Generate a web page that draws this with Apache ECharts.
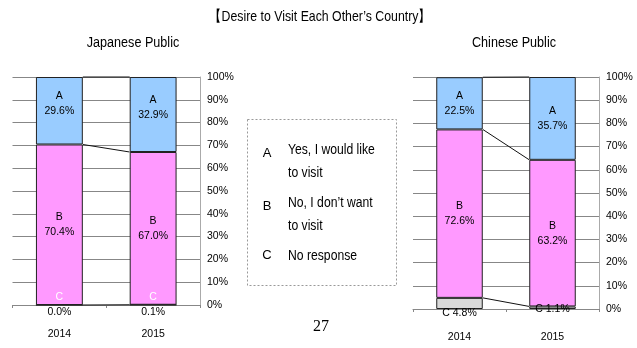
<!DOCTYPE html>
<html><head><meta charset="utf-8">
<script src="https://cdn.jsdelivr.net/npm/echarts@6/dist/echarts.min.js"></script>
<style>html,body{margin:0;padding:0;background:#fff}#c{width:637px;height:348px}</style>
</head><body><div id="c"></div>
<script>
const years = ['2014', '2015'];
const jpA = [29.6, 32.9];
const jpB = [70.4, 67.0];
const jpC = [0.0, 0.1];
const cnA = [22.5, 35.7];
const cnB = [72.6, 63.2];
const cnC = [4.8, 1.1];
const legendKeys = ['A', 'B', 'C'];
const legendTexts = ['Yes, I would like\nto visit', 'No, I don\u2019t want\nto visit', 'No response'];

const SANS = 'Liberation Sans, Arial, sans-serif';
const colA = '#99CCFF', colB = '#FF99FF', colC = '#D9D9D9';
const gridCol = '#878787';

const chart = echarts.init(document.getElementById('c'), null, {renderer: 'canvas'});

function yAxisCfg(gi) {
  return {
    gridIndex: gi, type: 'value', position: 'right', min: 0, max: 100, interval: 10,
    axisLine: {show: true, lineStyle: {color: '#aaa'}},
    axisTick: {show: false},
    splitLine: {show: true, lineStyle: {color: gridCol, width: 1}},
    axisLabel: {formatter: v => v + '%', color: '#000', fontFamily: SANS, fontSize: 10.5, margin: 7}
  };
}

function connector(gi, C, B, A) {
  const bounds = [
    [0, C[0], C[1]],
    [0, C[0] + B[0], C[1] + B[1]],
    [0, C[0] + B[0] + A[0], C[1] + B[1] + A[1]]
  ];
  return {
    type: 'custom', xAxisIndex: gi, yAxisIndex: gi, z: 5, silent: true,
    encode: {x: 0, y: [1, 2]},
    data: bounds,
    renderItem: (params, api) => {
      const p0 = api.coord([0, api.value(1)]);
      const p1 = api.coord([1, api.value(2)]);
      const half = api.size([1, 0])[0] * 0.25;
      return {type: 'line', shape: {x1: p0[0] + half, y1: p0[1], x2: p1[0] - half, y2: p1[1]},
        style: {stroke: '#111', lineWidth: 1}};
    }
  };
}

const barBase = {type: 'bar', barWidth: '50%'};
const lblStyle = {color: '#000', fontFamily: SANS, fontSize: 10.5, lineHeight: 15};

function txt(text, x, y, size, sx, extra) {
  return {type: 'text', x: x, y: y, scaleX: sx, silent: true,
    style: Object.assign({text: text, x: 0, y: 0, font: size + 'px ' + SANS, fill: '#000',
      textAlign: 'center', textVerticalAlign: 'middle'}, extra || {})};
}

const option = {
  animation: false,
  grid: [
    {left: 12.5, right: 437, top: 77, bottom: 43},
    {left: 413, right: 38, top: 77, bottom: 39}
  ],
  xAxis: [
    {gridIndex: 0, type: 'category', data: years,
      axisLine: {lineStyle: {color: gridCol}}, axisTick: {show: true, length: 3, lineStyle: {color: gridCol}},
      axisLabel: {margin: 1, color: '#000', fontFamily: SANS, fontSize: 10.5,
        formatter: (v, i) => '{p|' + jpC[i].toFixed(1) + '%}\n{y|' + v + '}',
        rich: {p: {fontFamily: SANS, fontSize: 10.5, lineHeight: 12, color: '#000'},
               y: {fontFamily: SANS, fontSize: 10.5, lineHeight: 32, color: '#000', verticalAlign: 'middle'}}}},
    {gridIndex: 1, type: 'category', data: years,
      axisLine: {lineStyle: {color: gridCol}}, axisTick: {show: true, length: 3, lineStyle: {color: gridCol}},
      axisLabel: {margin: 23, color: '#000', fontFamily: SANS, fontSize: 10.5}}
  ],
  yAxis: [yAxisCfg(0), yAxisCfg(1)],
  series: [
    Object.assign({}, barBase, {name: 'C', stack: 'jp', xAxisIndex: 0, yAxisIndex: 0, z: 4, data: jpC,
      itemStyle: {color: colC, borderColor: '#222', borderWidth: 1},
      label: Object.assign({}, lblStyle, {show: true, position: 'top', distance: 0, color: '#fff', formatter: 'C'})}),
    Object.assign({}, barBase, {name: 'B', stack: 'jp', xAxisIndex: 0, yAxisIndex: 0, data: jpB,
      itemStyle: {color: colB, borderColor: '#222', borderWidth: 1},
      label: Object.assign({}, lblStyle, {show: true, position: 'inside', formatter: p => 'B\n' + p.value.toFixed(1) + '%'})}),
    Object.assign({}, barBase, {name: 'A', stack: 'jp', xAxisIndex: 0, yAxisIndex: 0, data: jpA,
      itemStyle: {color: colA, borderColor: '#222', borderWidth: 1},
      label: Object.assign({}, lblStyle, {show: true, position: 'inside', offset: [0, -7], formatter: p => 'A\n' + p.value.toFixed(1) + '%'})}),
    connector(0, jpC, jpB, jpA),

    Object.assign({}, barBase, {name: 'C', stack: 'cn', xAxisIndex: 1, yAxisIndex: 1, z: 4,
      data: cnC.map((v, i) => ({value: v, label: {distance: i === 0 ? -3 : -7}})),
      itemStyle: {color: colC, borderColor: '#222', borderWidth: 1},
      label: Object.assign({}, lblStyle, {show: true, position: 'bottom', formatter: p => 'C ' + p.value.toFixed(1) + '%'})}),
    Object.assign({}, barBase, {name: 'B', stack: 'cn', xAxisIndex: 1, yAxisIndex: 1, data: cnB,
      itemStyle: {color: colB, borderColor: '#222', borderWidth: 1},
      label: Object.assign({}, lblStyle, {show: true, position: 'inside', formatter: p => 'B\n' + p.value.toFixed(1) + '%'})}),
    Object.assign({}, barBase, {name: 'A', stack: 'cn', xAxisIndex: 1, yAxisIndex: 1, data: cnA,
      itemStyle: {color: colA, borderColor: '#222', borderWidth: 1},
      label: Object.assign({}, lblStyle, {show: true, position: 'inside', formatter: p => 'A\n' + p.value.toFixed(1) + '%'})}),
    connector(1, cnC, cnB, cnA)
  ],
  graphic: [
    txt('\u3010Desire to Visit Each Other\u2019s Country\u3011', 320, 17, 15, 0.82),
    txt('Japanese Public', 133, 43, 14, 0.9),
    txt('Chinese Public', 514, 43, 14, 0.9),
    {type: 'text', x: 321, y: 327, silent: true,
      style: {text: '27', x: 0, y: 0, font: '16px Liberation Serif, serif', fill: '#000',
        textAlign: 'center', textVerticalAlign: 'middle'}},
    {type: 'rect', left: 245, top: 117, shape: {width: 149, height: 166},
      style: {fill: 'none', stroke: '#999', lineWidth: 1, lineDash: [2, 2]}},
    ...legendKeys.map((k, i) => txt(k, 267, [153, 206, 255][i], 13, 1)),
    ...legendTexts.map((t, i) => txt(t, 288, [148, 201, 254][i], 14, 0.87,
      {textAlign: 'left', textVerticalAlign: 'top', y: -9, lineHeight: 23}))
  ]
};
chart.setOption(option);
</script></body></html>
